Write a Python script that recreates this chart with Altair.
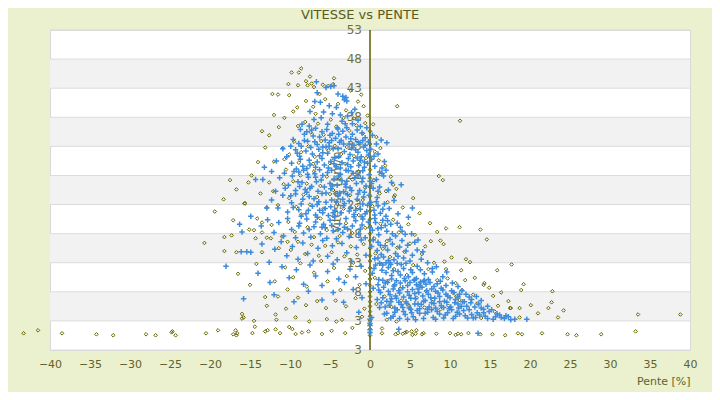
import altair as alt
import pandas as pd

title_text = "VITESSE vs PENTE"
x_title = "Pente [%]"
y_title = "Vitesse [km/h]"
x_ticks = list(range(-40, 45, 5))
y_ticks = list(range(-2, 54, 5))  # -2, 3, ..., 53
y_tick_labels = ["3", "3", "8", "13", "18", "23", "28", "33", "38", "43", "48", "53"]

# ---- blue series (pente %, vitesse) ----
blue_top = [(-6.7,44.1),(-5.5,43.1),(-4.9,43.3),(-4.5,43.4),(-4.0,42.0),(-3.4,41.6),(-3.2,41.0),(-3.0,41.4),
            (-2.9,40.8),(-6.6,42.2),(-6.9,40.7),(-6.2,40.6),(-7.5,39.0),(-5.8,38.9),(-4.7,38.6),(-3.7,38.4),
            (-2.8,38.2),(-2.3,38.8),(-1.9,39.4),(-5.1,40.0),(-4.2,39.7),(-6.1,37.9),(-7.0,37.6),(-3.5,37.3),
            (-1.5,37.5),(-2.2,36.9),(-8.7,35.9),(-7.6,36.5),(-5.3,36.8),(-4.1,36.2)]
blue_band33 = [(-9.6,34.2),(-8.9,33.5),(-8.2,35.1),(-7.8,33.9),(-7.1,34.8),(-6.6,33.3),(-6.0,35.5),(-5.6,34.1),
               (-5.1,33.6),(-4.7,35.2),(-4.3,34.4),(-3.8,33.7),(-3.4,35.6),(-3.0,34.6),(-2.6,33.4),(-2.2,35.1),
               (-1.8,34.2),(-1.4,33.6),(-1.0,35.3),(-0.6,34.5),(-0.2,33.8),(0.3,34.9),(-4.0,36.0),(-2.9,36.2),
               (-1.2,36.4),(-5.9,32.9),(0.8,33.4),(1.4,34.1),(2.1,33.6)]
blue_band29 = [(-10.4,31.2),(-9.8,30.1),(-9.3,32.4),(-8.8,31.3),(-8.4,29.6),(-8.0,32.2),(-7.6,30.6),(-7.2,31.7),
               (-6.8,29.4),(-6.4,32.5),(-6.0,30.9),(-5.7,29.8),(-5.3,31.8),(-4.9,30.4),(-4.6,32.6),(-4.2,29.5),
               (-3.9,31.3),(-3.5,30.2),(-3.2,32.1),(-2.8,29.9),(-2.5,31.6),(-2.1,30.5),(-1.8,32.4),(-1.4,29.7),
               (-1.1,31.2),(-0.7,30.3),(-0.4,32.3),(0.2,30.8),(0.6,29.6),(1.0,31.7),(1.5,29.3),(2.0,28.9),
               (1.8,30.4),(-5.5,32.9),(-7.9,29.2),(-3.0,28.9),(-0.9,28.8)]
blue_band25 = [(-11.3,27.6),(-10.7,28.4),(-10.2,26.3),(-9.7,27.9),(-9.3,25.4),(-8.9,28.6),(-8.5,26.8),(-8.1,25.6),
               (-7.7,27.7),(-7.3,26.1),(-6.9,28.3),(-6.5,25.3),(-6.1,27.2),(-5.7,26.0),(-5.3,28.5),(-4.9,25.7),
               (-4.5,27.4),(-4.1,26.3),(-3.7,28.2),(-3.3,25.2),(-2.9,27.0),(-2.5,25.9),(-2.1,28.4),(-1.7,26.6),
               (-1.3,25.4),(-0.9,27.5),(-0.5,26.2),(-0.1,28.1),(0.4,25.8),(0.8,27.3),(1.2,26.0),(1.7,27.9),
               (2.3,25.5),(2.7,26.8),(3.9,26.4),(-6.3,29.0),(-2.7,28.8),(-8.3,28.9),(-4.3,24.9)]
blue_band21 = [(-12.3,23.8),(-11.5,22.4),(-10.9,24.6),(-10.3,21.7),(-9.8,23.3),(-9.3,24.8),(-8.9,22.1),(-8.4,23.9),
               (-8.0,21.4),(-7.6,24.4),(-7.2,22.7),(-6.8,21.2),(-6.4,23.5),(-6.0,24.9),(-5.6,22.3),(-5.2,21.1),
               (-4.8,23.8),(-4.4,22.0),(-4.0,24.5),(-3.6,21.6),(-3.2,23.2),(-2.8,24.7),(-2.4,22.5),(-2.0,21.3),
               (-1.6,23.9),(-1.2,22.2),(-0.8,24.3),(-0.4,21.8),(0.1,23.4),(0.5,22.0),(0.9,24.2),(1.3,21.5),
               (1.8,23.1),(2.4,22.3),(3.0,23.7),(3.5,21.4),(5.3,22.4),(-7.9,25.1),(-3.8,25.0),(-1.0,20.9)]
blue_band17 = [(-14.9,21.0),(-13.6,19.3),(-12.8,20.4),(-12.0,18.2),(-11.4,19.9),(-10.8,17.6),(-10.3,20.6),(-9.8,18.7),
               (-9.3,17.3),(-8.8,19.8),(-8.3,18.1),(-7.9,20.5),(-7.4,17.4),(-7.0,19.2),(-6.6,20.8),(-6.2,18.0),
               (-5.8,19.6),(-5.4,17.2),(-5.0,20.3),(-4.6,18.5),(-4.2,17.1),(-3.8,19.7),(-3.4,18.2),(-3.0,20.6),
               (-2.6,17.5),(-2.2,19.3),(-1.8,20.2),(-1.4,18.0),(-1.0,19.5),(-0.6,17.3),(-0.2,20.0),(0.3,18.6),
               (0.7,19.9),(1.1,17.8),(1.6,20.3),(2.1,18.4),(2.6,19.6),(3.2,17.6),(3.8,19.1),(4.4,17.9),
               (-16.3,19.6),(-16.0,18.3),(-8.6,21.0),(-4.4,20.9)]
blue_band13 = [(-16.1,14.9),(-15.4,14.9),(-14.9,14.8),(-13.5,16.2),(-12.6,13.1),(-11.9,15.3),(-11.1,16.6),(-10.4,14.2),
               (-9.7,15.8),(-9.0,13.6),(-8.4,16.4),(-7.8,14.6),(-7.1,13.3),(-6.5,15.5),(-5.9,16.8),(-5.3,14.1),
               (-4.7,15.9),(-4.1,13.5),(-3.5,16.3),(-2.9,14.7),(-2.3,13.2),(-1.7,15.6),(-1.1,16.9),(-0.5,14.3),
               (0.2,15.8),(0.6,13.7),(1.0,16.5),(1.4,14.4),(1.9,15.9),(2.3,13.4),(2.8,16.2),(3.2,14.6),
               (3.7,15.7),(4.2,13.8),(4.7,16.0),(5.3,14.3),(5.9,15.2),(6.4,13.6),(1.2,12.9),(2.6,12.7),(-18.0,12.4)]
blue_band9 = [(-14.0,11.2),(-12.5,9.6),(-11.0,12.3),(-10.1,10.4),(-9.2,11.8),(-8.3,9.3),(-7.5,12.6),(-6.8,10.7),
              (-6.0,9.1),(-5.3,11.5),(-4.6,12.8),(-3.9,10.2),(-3.2,9.6),(-2.5,11.9),(-1.8,10.6),(-1.1,12.4),
              (-0.5,9.4),(0.3,11.2),(0.7,12.6),(1.1,10.1),(1.5,11.7),(1.9,9.5),(2.3,12.2),(2.7,10.8),
              (3.1,9.2),(3.5,11.5),(3.9,12.7),(4.3,10.3),(4.7,9.1),(5.1,11.8),(5.5,10.0),(5.9,12.4),
              (6.3,9.7),(6.8,11.1),(7.3,10.1),(7.8,12.0),(8.4,9.4),(9.1,10.6),(2.0,13.0),(4.5,12.9)]
blue_band6 = [(-15.8,6.8),(-12.0,7.5),(-9.5,6.3),(-7.7,8.1),(-6.0,6.6),(-4.6,7.9),(-3.3,6.2),(-2.1,8.4),
              (-1.0,7.0),(0.4,8.6),(0.9,6.7),(1.3,7.9),(1.7,8.8),(2.1,6.4),(2.5,7.5),(2.9,8.5),
              (3.3,6.9),(3.7,7.8),(4.1,8.7),(4.5,6.3),(4.9,7.4),(5.3,8.4),(5.7,6.8),(6.1,7.9),
              (6.5,8.8),(6.9,6.5),(7.3,7.6),(7.7,8.5),(8.1,6.9),(8.5,7.8),(8.9,8.6),(9.3,6.4),
              (9.7,7.3),(10.2,8.2),(10.7,6.7),(11.2,7.6),(11.8,6.3),(12.4,7.1),(3.0,9.0),(5.8,9.2),(7.0,9.3)]
blue_band3 = [(-1.4,4.5),(0.2,3.6),(0.0,2.2),(0.0,1.0),(0.0,1.5),(0.0,2.6),(0.0,3.3),(1.2,5.3),(1.8,4.2),
              (2.4,5.7),(2.9,3.8),(3.4,4.9),(3.9,5.8),(4.4,4.1),(4.9,5.2),(5.4,3.7),(5.9,4.8),(6.4,5.8),
              (6.9,4.3),(7.4,5.4),(7.9,3.6),(8.4,4.6),(8.9,5.6),(9.4,4.0),(9.9,5.1),(10.4,3.4),(10.9,4.5),
              (11.4,5.5),(11.9,3.9),(12.4,4.9),(12.9,3.5),(13.4,4.4),(13.9,5.2),(14.4,3.8),(14.9,4.6),
              (15.4,3.3),(15.9,4.2),(16.4,3.6),(17.0,3.9),(17.6,3.2),(18.1,3.3),(19.6,3.3),(13.5,0.87),
              (3.6,1.55),(6.0,5.9),(8.0,6.0),(11.0,5.9)]
blue_extra = [(-5.0,34.9),(-3.6,34.0),(-2.0,33.2),(-0.8,32.9),(-6.3,31.4),(-4.4,31.0),(-2.7,30.9),(-1.6,31.0),
              (-0.2,31.5),(-5.9,28.0),(-4.8,28.9),(-3.5,27.1),(-1.9,27.6),(-0.7,29.4),(-6.7,26.9),(-5.0,26.6),
              (-3.0,26.0),(-1.0,26.9),(0.0,27.0),(-7.0,24.0),(-5.5,23.4),(-3.4,23.9),(-1.5,24.8),(-0.3,22.9),
              (-6.3,22.0),(-4.6,21.6),(-2.6,21.9),(-0.6,21.4),(1.0,22.8),(-5.6,19.0),(-3.2,19.1),(-1.2,18.8),
              (0.6,20.6),(2.0,21.0),(-7.8,28.2),(-9.0,26.9),(-9.9,24.5),(-10.6,25.8),(-11.8,25.3),(-12.9,22.4),
              (-13.4,27.3),(-14.3,27.3),(-12.3,28.7),(-13.2,29.4),(-11.7,30.5),(-10.9,32.6),(-9.9,33.0),
              (-8.2,34.0),(-9.2,29.1),(-7.3,35.8)]
blue_fill_core = [(-8.5,36.8),(-7.9,35.5),(-6.8,36.1),(-6.3,34.6),(-5.4,35.9),(-4.8,34.0),(-3.9,35.1),(-3.1,36.9),
                  (-2.4,34.3),(-1.6,35.8),(-0.9,34.0),(-0.4,36.2),(-9.1,31.8),(-8.6,33.0),(-7.4,32.8),(-6.9,33.8),
                  (-5.9,31.9),(-5.1,33.0),(-4.0,32.6),(-3.3,33.4),(-2.3,32.7),(-1.5,32.0),(-0.6,33.2),(0.1,32.5),
                  (-9.5,28.7),(-8.7,30.8),(-7.5,29.8),(-6.6,30.3),(-5.2,29.3),(-4.5,30.0),(-3.7,29.3),(-2.4,29.5),
                  (-1.2,30.6),(-0.3,30.1),(0.5,31.3),(1.2,28.6),(-8.8,26.1),(-7.5,25.8),(-6.8,27.7),(-5.5,25.0),
                  (-4.7,26.2),(-3.9,27.9),(-3.1,26.5),(-2.3,25.4),(-1.5,28.0),(-0.7,25.1),(0.2,26.6),(1.0,25.3),
                  (1.5,28.4),(-9.6,22.5),(-8.6,23.1),(-7.7,22.0),(-6.6,23.0),(-5.9,21.6),(-4.9,22.6),(-4.2,23.5),
                  (-3.3,22.8),(-2.6,23.6),(-1.8,22.0),(-0.9,23.1),(-0.1,24.6),(0.8,23.5),(1.6,22.2),(-8.9,19.3),
                  (-7.6,18.7),(-6.8,20.0),(-6.0,19.1),(-4.8,19.4),(-4.0,18.7),(-2.8,18.8),(-2.0,20.9),(-0.9,20.5),
                  (0.0,19.0),(1.0,18.9),(1.9,19.4)]
blue_fill_ridge = [(0.4,16.9),(0.9,15.1),(1.3,16.0),(1.7,14.0),(2.2,15.2),(2.5,17.0),(3.0,13.5),(3.5,14.1),
                   (4.0,16.8),(4.5,15.0),(5.0,13.3),(5.6,16.5),(0.5,12.0),(1.0,13.8),(1.6,12.6),(2.0,11.3),
                   (2.5,13.0),(2.9,11.6),(3.4,12.9),(3.8,10.9),(4.2,12.0),(4.8,10.6),(5.3,11.3),(5.8,10.3),
                   (6.3,11.8),(6.8,10.0),(0.6,21.2),(1.4,19.0),(2.2,20.2),(2.8,18.0),(3.4,19.8),(4.0,18.4),
                   (4.8,20.8),(5.2,18.0),(6.0,16.9),(6.6,14.9),(7.2,13.0),(7.8,11.4),(8.3,12.3),(9.6,11.4)]
blue_fill_blob = [(1.0,9.2),(1.6,10.0),(2.2,9.6),(2.7,10.2),(3.3,9.9),(3.8,9.5),(4.4,9.9),(5.0,9.6),(5.6,10.1),
                  (6.2,9.0),(6.7,9.8),(7.5,9.6),(8.0,8.9),(8.8,9.8),(9.5,9.1),(10.3,9.5),(11.0,8.9),
                  (1.1,8.3),(1.6,7.0),(2.3,8.1),(2.7,6.8),(3.2,7.3),(3.6,8.2),(4.2,7.1),(4.7,8.0),(5.1,6.9),
                  (5.6,7.7),(6.0,8.5),(6.6,7.3),(7.1,8.2),(7.6,7.0),(8.2,8.1),(8.7,7.2),(9.1,8.3),(9.5,7.6),
                  (10.0,7.0),(10.5,7.9),(11.0,7.1),(11.5,8.2),(12.0,7.6),(12.7,6.7),(13.3,7.2),(13.9,6.5),
                  (1.4,6.1),(1.9,5.4),(2.6,6.3),(3.1,5.2),(3.6,6.2),(4.1,5.3),(4.6,6.0),(5.1,5.0),(5.6,5.9),
                  (6.2,5.1),(6.7,6.4),(7.2,5.0),(7.7,6.1),(8.2,5.2),(8.7,6.3),(9.2,5.3),(9.6,6.2),(10.1,5.4),
                  (10.6,6.1),(11.1,5.2),(11.6,6.3),(12.1,5.5),(12.6,6.1),(13.1,5.4),(13.6,5.9),(14.2,5.0),
                  (14.7,5.5),(15.2,4.9),(2.1,4.3),(2.6,3.5),(3.1,4.5),(3.7,3.4),(4.2,4.6),(4.7,3.3),(5.2,4.4),
                  (5.7,3.2),(6.2,4.3),(6.7,3.4),(7.2,4.5),(7.7,4.9),(8.2,3.3),(8.7,4.2),(9.2,3.5),(9.7,4.4),
                  (10.2,4.9),(10.7,3.8),(11.2,4.2),(11.7,4.8),(12.2,3.5),(12.7,4.1),(13.2,3.6),(13.7,4.0),
                  (14.2,4.4),(14.7,3.4),(15.7,3.7),(16.2,4.0),(16.8,3.4),(17.3,3.7)]

# ---- olive series ----
olive_top = [(-8.6,46.4),(-8.9,45.7),(-9.8,45.7),(-7.5,45.0),(-10.2,43.7),(-9.0,43.5),(-8.0,44.2),(-7.8,43.5),
             (-7.3,43.8),(-7.0,43.2),(-11.5,41.9),(-10.1,41.8),(-9.6,39.0),(-9.1,39.7),(-10.7,37.9),(-4.5,44.7),
             (-5.9,43.6),(-5.2,43.4),(-4.6,43.7),(-1.1,41.9),(-1.5,40.7),(-0.8,39.9),(3.4,39.9),(-6.3,42.0),
             (-5.6,41.1),(-4.0,40.3),(-2.4,42.6),(-3.0,39.2),(-6.8,38.6),(-2.0,37.8),(-0.6,37.0),(-8.0,40.8),
             (-7.1,39.8),(-12.2,42.0),(11.25,37.4)]
olive_left = [(-17.5,27.2),(-15.7,23.2),(-10.9,32.7),(-10.1,31.6),(-10.7,30.8),(-12.0,30.4),(-13.7,24.9),(-12.1,25.3),
              (-12.9,22.5),(-15.6,23.2),(-20.7,16.4),(-18.2,15.0),(-18.2,17.4),(-17.3,17.7),(-15.1,18.7),(-14.5,18.6),
              (-14.3,17.2),(-13.5,18.2),(-13.5,14.8),(-12.9,17.3),(-12.4,17.2),(-11.4,15.5),(-16.7,14.8),(-10.3,16.6),
              (-14.1,20.6),(-13.5,19.9),(-12.3,19.5),(-11.0,17.5),(-11.9,9.8),(-11.5,7.2),(-10.3,8.4),(-16.0,4.2),
              (-15.8,3.6),(-14.5,3.0),(-14.4,2.0),(-11.8,4.1),(-11.7,3.2),(-16.0,3.4),(-13.1,7.1),(-12.9,5.6),
              (-16.5,11.1),(-15.0,9.2),(-14.2,12.8),(-19.4,21.8),(-18.3,23.9),(-16.7,25.6),(-15.2,26.8),(-14.0,30.3),
              (-13.1,32.8),(-12.6,34.9),(-11.4,36.3),(-12.0,38.4),(-13.5,35.6),(-14.8,28.0),(-17.1,20.3)]
olive_core_hi = [(-9.0,36.5),(-8.1,37.2),(-7.4,35.4),(-6.5,36.9),(-5.8,35.0),(-4.9,37.6),(-4.2,36.4),(-3.3,37.9),
                 (-2.6,35.7),(-1.7,36.6),(-0.9,35.2),(-0.3,38.3),(-9.5,33.8),(-8.6,32.0),(-7.7,33.0),(-6.9,31.2),
                 (-6.1,33.9),(-5.2,32.3),(-4.4,33.1),(-3.6,31.7),(-2.9,32.9),(-2.0,31.3),(-1.2,33.5),(-0.5,31.0),
                 (0.6,32.1),(-8.9,30.2),(-7.1,30.0),(-5.0,30.1),(-3.1,30.0),(-1.3,30.1),(1.1,30.6),(0.4,36.8),
                 (0.8,34.6),(1.3,32.7),(1.9,29.7)]
olive_core_mid = [(-10.5,29.0),(-9.6,27.0),(-8.7,28.0),(-7.9,26.6),(-7.0,28.7),(-6.2,26.2),(-5.4,27.8),(-4.6,25.5),
                  (-3.8,27.6),(-3.0,25.1),(-2.2,27.3),(-1.4,28.7),(-0.6,25.9),(0.5,27.2),(1.3,28.2),(2.0,25.3),
                  (-10.1,24.1),(-9.2,22.6),(-8.3,24.7),(-7.5,23.0),(-6.6,24.3),(-5.8,22.3),(-5.0,24.8),(-4.1,23.1),
                  (-3.3,22.3),(-2.5,24.6),(-1.7,22.8),(-0.9,23.8),(0.3,22.7),(1.2,24.9),(2.2,23.4),(3.0,24.3),
                  (-11.5,22.9),(-10.8,26.5),(-12.6,26.8),(2.6,27.8),(3.3,25.7),(2.9,26.4),(3.1,24.6)]
olive_core_lo = [(-10.2,20.0),(-9.4,18.3),(-8.6,21.3),(-7.8,19.1),(-7.0,17.4),(-6.2,20.6),(-5.4,18.6),(-4.6,21.0),
                 (-3.8,17.6),(-3.0,19.8),(-2.2,18.1),(-1.4,21.2),(-0.6,19.0),(0.5,17.2),(1.3,19.7),(2.1,16.7),
                 (2.9,20.4),(3.6,18.2),(-9.9,15.2),(-9.0,16.6),(-8.1,14.5),(-7.3,16.1),(-6.4,14.2),(-5.6,15.9),
                 (-4.8,14.8),(-4.0,16.5),(-3.2,14.1),(-2.4,15.8),(-1.6,14.4),(-0.8,16.2),(0.7,14.6),(1.6,15.4),
                 (2.5,14.0),(3.4,15.6),(4.3,14.9),(5.0,16.3),(4.1,22.5),(4.8,19.6)]
olive_core_base = [(-10.6,12.2),(-9.6,10.5),(-8.7,12.9),(-7.9,8.9),(-7.0,11.3),(-6.1,13.3),(-5.3,9.8),(-4.5,12.1),
                   (-3.7,8.3),(-2.9,10.7),(-2.1,13.0),(-1.3,9.2),(-0.6,11.6),(0.6,10.4),(1.4,12.8),(2.2,9.9),
                   (3.0,11.9),(3.8,8.6),(4.6,10.9),(5.4,12.6),(6.2,9.4),(7.0,8.1),(-9.0,7.0),(-8.0,5.7),
                   (-6.6,6.4),(-5.5,5.2),(-4.3,6.5),(-3.0,5.5),(-1.8,6.9),(-0.7,5.1),(0.8,5.9),(1.8,7.2),
                   (2.7,5.4),(3.9,6.5),(4.9,5.6),(5.8,7.0),(6.8,5.3),(7.9,6.7),(8.8,5.0),(9.8,5.6),
                   (-7.6,2.9),(-5.4,3.3),(-4.2,2.9),(-3.5,3.2),(-2.2,1.8),(2.1,3.2),(3.3,2.9),(-1.0,3.7),
                   (-9.3,3.6),(-10.5,5.1)]
olive_axis = [(0,0.5),(0,1.0),(0,1.6),(0,2.3),(0,3.0),(0,3.8),(0,4.6),(0,5.5),(0,6.3),(0,7.2),(0,8.0),(0,9.1),
              (0,10.2),(0,11.0),(0,12.1),(0,13.3),(0,14.2),(0,15.5),(0,16.8),(0,18.0),(0,19.3),(0,20.5),(0,21.9),
              (0,23.2),(0,24.4),(0,26.0),(0,27.5),(0,29.0),(0,31.2),(0,33.4),(0,35.6)]
olive_right = [(5.4,24.1),(6.2,21.5),(7.5,19.8),(8.4,18.3),(9.5,18.9),(11.2,19.1),(13.8,18.7),(14.6,17.0),
               (8.8,16.8),(7.6,16.7),(9.2,16.2),(10.2,13.9),(9.3,13.2),(12.5,13.1),(17.7,12.7),(15.9,11.7),
               (11.4,11.7),(9.5,11.9),(19.2,9.3),(18.9,8.3),(22.8,8.1),(22.7,6.2),(22.3,5.2),(23.5,3.6),
               (24.2,4.8),(14.3,9.5),(14.2,9.2),(14.9,8.7),(16.4,7.9),(17.3,6.4),(17.6,5.2),(18.7,3.6),
               (18.7,5.2),(17.5,5.2),(33.5,4.1),(38.8,4.1),(11.9,10.0),(10.7,9.5),(9.7,10.3),(8.4,10.0),
               (10.4,7.8),(10.8,7.2),(11.2,6.6),(12.9,7.5),(13.4,6.0),(15.4,7.3),(16.0,5.6),(7.3,11.9),
               (6.5,14.5),(5.6,17.8),(12.0,13.6),(13.1,10.4),(11.5,8.3),(8.0,13.0),(6.9,15.8),(20.1,5.7),
               (21.0,4.3),(15.6,4.6),(13.9,3.5),(8.6,27.9),(9.1,27.2)]
olive_floor = [(-43.3,0.87),(-41.5,1.38),(-38.5,0.87),(-34.2,0.70),(-32.1,0.53),(-28.0,0.70),(-26.8,0.53),
               (-24.8,1.04),(-24.7,1.21),(-24.3,0.53),(-20.5,0.87),(-19.0,1.38),(-17.1,0.70),(-16.8,1.38),
               (-16.7,0.53),(-16.6,0.87),(-14.7,0.9),(-13.1,1.2),(-12.8,1.4),(-11.8,1.55),(-11.25,0.9),
               (-10.1,1.95),(-9.7,1.6),(-9.3,0.75),(-8.5,1.0),(-7.7,1.2),(-6.0,0.75),(-4.8,1.3),(-3.1,0.9),
               (1.5,0.87),(1.5,1.7),(3.2,0.7),(3.5,0.9),(4.1,0.8),(4.4,1.0),(4.6,1.1),(5.2,1.2),(5.3,0.6),
               (5.7,0.8),(5.8,1.4),(6.5,0.7),(6.7,0.9),(8.3,0.8),(10.0,0.9),(10.7,0.6),(11.0,0.8),(11.4,0.7),
               (12.3,0.9),(13.8,0.7),(15.3,0.7),(16.9,0.53),(18.5,0.87),(19.0,0.7),(21.5,0.87),(24.7,0.7),
               (25.8,0.53),(28.9,0.7),(33.2,1.2)]


def frame(*groups):
    rows = [{"pente": x, "vitesse": y} for g in groups for (x, y) in g]
    return pd.DataFrame(rows)


blue_df = frame(blue_top, blue_band33, blue_band29, blue_band25, blue_band21, blue_band17,
                blue_band13, blue_band9, blue_band6, blue_band3, blue_extra,
                blue_fill_core, blue_fill_ridge, blue_fill_blob)
olive_df = frame(olive_top, olive_left, olive_core_hi, olive_core_mid, olive_core_lo,
                 olive_core_base, olive_axis, olive_right, olive_floor)

band_lo = y_ticks[1::2][:5]
band_hi = y_ticks[2::2][:5]
bands_df = pd.DataFrame({"vitesse": band_lo, "hi": band_hi})
ticks_df = pd.DataFrame({"vitesse": y_ticks, "lab": y_tick_labels})

W, H = 640, 320
xscale = alt.Scale(domain=[-40, 40], nice=False, zero=False)
yscale = alt.Scale(domain=[-2, 53], nice=False, zero=False)
FONT = "DejaVu Sans"
YLAB = "#70703C"

x_axis = alt.Axis(
    values=x_ticks, grid=False, domain=False, ticks=False, labelPadding=8,
    labelOverlap=False, labelFlush=False, labelColor="#5F6428", labelFontSize=11, labelFont=FONT,
    title=x_title, titleColor="#5F6428", titleFontSize=11, titleFont=FONT,
    titleFontWeight="normal", titleAnchor="end", titlePadding=6,
)

bands = alt.Chart(bands_df).mark_rect(color="#F2F2F2").encode(
    y=alt.Y("vitesse:Q", scale=yscale, axis=None),
    y2="hi:Q",
    x=alt.value(0),
    x2=alt.value(W),
)

grid = alt.Chart(ticks_df).mark_rule(color="#DCDCDC", strokeWidth=1).encode(
    y=alt.Y("vitesse:Q", scale=yscale, axis=None),
    x=alt.value(0),
    x2=alt.value(W),
)

y_labels = alt.Chart(ticks_df).mark_text(
    align="right", baseline="middle", dx=-8, font=FONT, fontSize=12, color=YLAB
).encode(
    x=alt.X(datum=0, scale=xscale, axis=x_axis),
    y=alt.Y("vitesse:Q", scale=yscale, axis=None),
    text="lab:N",
)

y_title_mark = alt.Chart().mark_text(
    angle=270, align="center", baseline="middle", font=FONT, fontSize=12, color=YLAB
).encode(
    x=alt.X(datum=-4.1, scale=xscale, axis=x_axis),
    y=alt.Y(datum=25.5, scale=yscale, axis=None),
    text=alt.value(y_title),
)

y_line = alt.Chart().mark_rule(color="#5C5C00", strokeWidth=1.5).encode(
    x=alt.X(datum=0, scale=xscale, axis=x_axis),
    y=alt.value(0),
    y2=alt.value(H),
)

title_mark = alt.Chart().mark_text(
    align="center", baseline="alphabetic", font=FONT, fontSize=13, color="#5A5A1E"
).encode(
    x=alt.value(310),
    y=alt.value(-11),
    text=alt.value(title_text),
)

olive = alt.Chart(olive_df).mark_point(
    shape="diamond", filled=False, color="#666600", strokeWidth=1, size=13, opacity=1
).encode(
    x=alt.X("pente:Q", scale=xscale, axis=x_axis),
    y=alt.Y("vitesse:Q", scale=yscale, axis=None),
)

blue = alt.Chart(blue_df).mark_point(
    shape="M-1,0L1,0M0,-1L0,1", filled=False, color="#3D8BDB", strokeWidth=1.5, size=30, opacity=1
).encode(
    x=alt.X("pente:Q", scale=xscale, axis=x_axis),
    y=alt.Y("vitesse:Q", scale=yscale, axis=None),
)

chart = alt.layer(bands, grid, y_labels, y_title_mark, y_line, title_mark, olive, blue).properties(
    width=W, height=H,
    autosize=alt.AutoSizeParams(type="none"),
    padding={"left": 42, "top": 22, "right": 22, "bottom": 42},
).configure(background="#EBF0CE").configure_view(fill="white", stroke="#D9D9D9")

chart.save("out.html", embed_options={"renderer": "svg", "actions": False})
